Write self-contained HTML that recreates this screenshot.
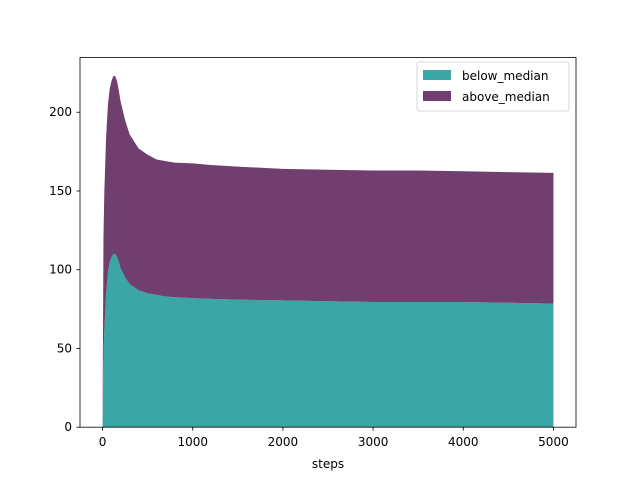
<!DOCTYPE html>
<html><head><meta charset="utf-8"><style>
body{margin:0;background:#fff}
svg text{font-family:"DejaVu Sans","Liberation Sans",sans-serif;font-size:12px;fill:#000}
</style></head><body>
<svg id="c" width="640" height="480" xmlns="http://www.w3.org/2000/svg">
<g id="areas"></g>
<rect x="80" y="57.6" width="496" height="369.6" fill="none" stroke="#000" stroke-width="0.8"/>
<g id="ticks"></g>
<text x="328" y="468" text-anchor="middle">steps</text>
<g>
<rect x="417" y="62" width="152" height="49" rx="2" fill="#fff" fill-opacity="0.8" stroke="#ccc" stroke-width="0.8"/>
<rect x="423" y="70" width="28" height="10" fill="#3aa6a6"/>
<text x="462" y="80">below_median</text>
<rect x="423" y="91" width="28" height="10" fill="#713f6f"/>
<text x="462" y="101">above_median</text>
</g>
</svg>
<script>
const steps=[0,10,20,40,60,80,100,120,140,160,180,200,250,300,400,500,600,700,800,1000,1200,1500,2000,2500,3000,3500,4000,4500,5000];
const belowMedian=[0,45,62,85,98,105,108,110,110,108,105,101,95,91,87,85,84,83,82.5,82,81.5,81,80.5,80,79.5,79.5,79.5,79,78.5];
const aboveMedian=[0,75,88,100,107,110,112,113,113,112,109,106,100,95,90,88,86,86,85.5,85.5,85,84.5,83.5,83.5,83.5,83.5,83,83,83];
const xTicks=[0,1000,2000,3000,4000,5000];
const yTicks=[0,50,100,150,200];
const X=v=>80+(v+250)*496/5500;
const Y=v=>427.2-v*369.6/234.7;
const ns='http://www.w3.org/2000/svg';
const areasG=document.getElementById('areas');
function area(lo,hi,color,name){
  let d='M'+steps.map((s,i)=>X(s)+','+Y(hi[i])).join('L');
  for(let i=steps.length-1;i>=0;i--)d+='L'+X(steps[i])+','+Y(lo[i]);
  const p=document.createElementNS(ns,'path');
  p.setAttribute('d',d+'Z');p.setAttribute('fill',color);
  
  
  areasG.appendChild(p);
}
const stackTop=belowMedian.map((v,i)=>v+aboveMedian[i]);
area(steps.map(()=>0),belowMedian,'#3aa6a6','area-below-median');
area(belowMedian,stackTop,'#713f6f','area-above-median');
const tg=document.getElementById('ticks');
xTicks.forEach(t=>{
  const l=document.createElementNS(ns,'line');
  l.setAttribute('x1',X(t));l.setAttribute('x2',X(t));l.setAttribute('y1',427.2);l.setAttribute('y2',430.7);l.setAttribute('stroke','#000');l.setAttribute('stroke-width','0.8');
  
  
  tg.appendChild(l);
  const tx=document.createElementNS(ns,'text');
  tx.setAttribute('x',X(t));tx.setAttribute('y',446);tx.setAttribute('text-anchor','middle');tx.textContent=t;
  
  
  tg.appendChild(tx);
});
yTicks.forEach(t=>{
  const l=document.createElementNS(ns,'line');
  l.setAttribute('x1',76.5);l.setAttribute('x2',80);l.setAttribute('y1',Y(t));l.setAttribute('y2',Y(t));l.setAttribute('stroke','#000');l.setAttribute('stroke-width','0.8');
  
  
  tg.appendChild(l);
  const tx=document.createElementNS(ns,'text');
  tx.setAttribute('x',72);tx.setAttribute('y',Y(t)+4);tx.setAttribute('text-anchor','end');tx.textContent=t;
  
  
  tg.appendChild(tx);
});
</script>
</body></html>
